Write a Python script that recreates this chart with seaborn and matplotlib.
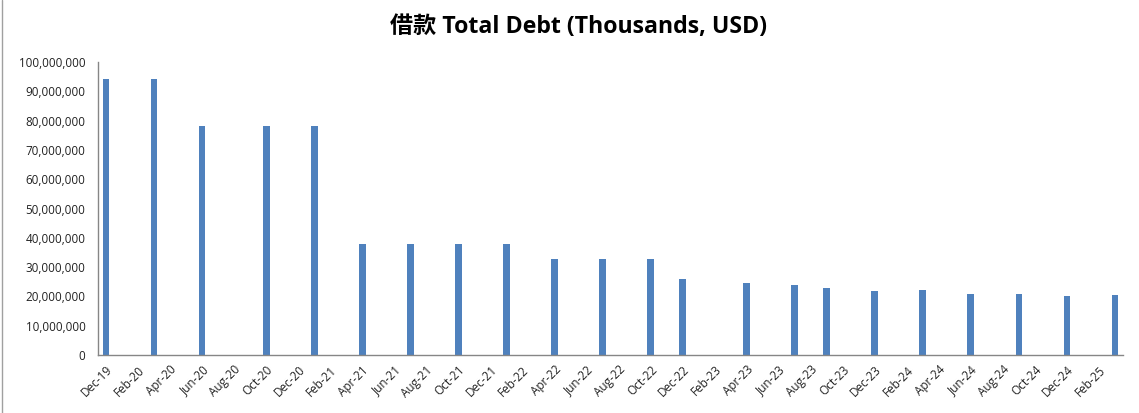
import pandas as pd
import matplotlib.pyplot as plt
import matplotlib.ticker as mticker
import seaborn as sns

# monthly categories Dec-19 .. Mar-25
months = pd.date_range("2019-12-01", "2025-03-01", freq="MS").strftime("%b-%y").tolist()

# reported values (thousands USD)
report_months = ["Dec-19", "Mar-20", "Jun-20", "Oct-20", "Jan-21", "Apr-21", "Jul-21",
                 "Oct-21", "Jan-22", "Apr-22", "Jul-22", "Oct-22", "Dec-22", "Apr-23",
                 "Jul-23", "Sep-23", "Dec-23", "Mar-24", "Jun-24", "Sep-24", "Dec-24",
                 "Mar-25"]
total_debt = [94_200_000, 94_200_000, 78_100_000, 78_100_000, 78_100_000, 38_000_000,
              38_000_000, 38_000_000, 38_000_000, 32_900_000, 32_900_000, 32_900_000,
              26_000_000, 24_700_000, 24_000_000, 22_900_000, 21_900_000, 22_300_000,
              20_900_000, 20_900_000, 20_200_000, 20_500_000]

df = pd.DataFrame({"month": report_months, "debt": total_debt})

sns.set_style("white")
plt.rcParams["font.family"] = ["Open Sans", "Noto Sans CJK SC", "DejaVu Sans"]

fig = plt.figure(figsize=(11.39, 4.13), dpi=100)
ax = fig.add_axes([98 / 1139, 1 - 355 / 413, (1123 - 98) / 1139, (355 - 62) / 413])

sns.barplot(data=df, x="month", y="debt", order=months, color="#4F81BD",
            saturation=1, width=0.42, linewidth=0, ax=ax)

ax.set_xlim(-0.5, len(months) - 0.5)
ax.set_ylim(0, 100_000_000)
ax.yaxis.set_major_locator(mticker.MultipleLocator(10_000_000))
ax.yaxis.set_major_formatter(mticker.FuncFormatter(lambda v, p: f"{int(v):,}"))

# labels every second month, tick marks on category boundaries
ax.set_xticks(range(0, len(months), 2))
ax.set_xticklabels(months[::2], rotation=45, ha="right", rotation_mode="anchor")
ax.set_xticks([i - 0.5 for i in range(0, len(months) + 1, 2)], minor=True)
ax.tick_params(axis="x", which="major", length=0, pad=6, labelsize=8.5, colors="#222222")
ax.tick_params(axis="x", which="minor", length=5, width=1, color="#868686", direction="out")
ax.tick_params(axis="y", length=5, width=1, color="#868686", direction="out",
               labelsize=8.4, labelcolor="#222222", pad=4)
ax.set_xlabel("")
ax.set_ylabel("")

for side in ["top", "right"]:
    ax.spines[side].set_visible(False)
for side in ["left", "bottom"]:
    ax.spines[side].set_color("#868686")
    ax.spines[side].set_linewidth(1)

fig.text(0.508, 1 - 27 / 413, "借款 Total Debt (Thousands, USD)", ha="center", va="center",
         fontsize=16.7, fontweight="bold", color="#000000")

# chart border on the left
fig.add_artist(plt.Line2D([2 / 1139, 2 / 1139], [0, 1], color="#a0a0a0", lw=1))

fig.savefig("out.png", dpi=100)
